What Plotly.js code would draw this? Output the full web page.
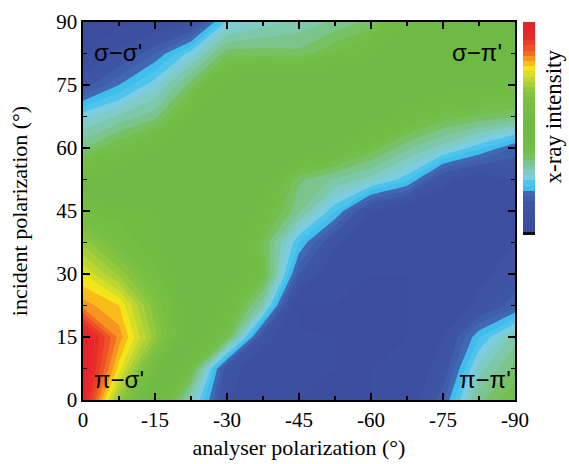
<!DOCTYPE html>
<html><head><meta charset="utf-8">
<script src="https://cdn.plot.ly/plotly-3.0.1.min.js"></script>
<style>html,body{margin:0;padding:0;background:#fff}</style>
</head><body><div id="chart" style="width:569px;height:464px"></div>
<script>
// analyser polarization (deg), x axis
const analyserAngles = [0, -7.5, -15, -22.5, -30, -37.5, -45, -52.5, -60, -67.5, -75, -82.5, -90];
// incident polarization (deg), y axis
const incidentAngles = [0, 7.5, 15, 22.5, 30, 37.5, 45, 52.5, 60, 67.5, 75, 82.5, 90];
// x-ray intensity (arb. units, 0-42), one row per incident angle
const intensity = [
  [40.0, 28.5, 20.0, 12.9,  5.2,  3.5,  3.0,  3.0,  3.0,  3.5,  7.8, 14.6, 17.0],
  [41.0, 32.6, 24.0, 17.0,  6.0,  3.5,  3.2,  3.0,  3.0,  3.3,  6.0, 12.5, 15.3],
  [40.8, 34.6, 28.5, 21.0, 16.4,  5.9,  3.2,  3.0,  3.0,  3.0,  5.0,  9.9, 13.5],
  [34.5, 33.0, 27.2, 21.0, 18.5, 13.25, 2.5,  3.0,  3.0,  3.0,  3.5,  5.5,  7.7],
  [32.0, 28.8, 24.5, 21.5, 20.0, 17.0,  7.1,  3.5,  3.0,  3.0,  3.5,  4.5,  6.0],
  [28.7, 25.0, 23.0, 22.0, 21.0, 16.0, 10.0,  5.5,  3.5,  3.2,  3.3,  4.0,  5.0],
  [24.0, 23.5, 23.0, 22.5, 22.0, 18.0, 14.2, 10.2,  5.0,  3.5,  3.5,  4.0,  4.5],
  [19.5, 20.0, 21.5, 22.0, 22.0, 20.0, 15.2, 13.8, 12.6, 10.4,  5.5,  4.0,  5.0],
  [14.8, 17.0, 19.0, 21.0, 22.0, 22.5, 21.0, 19.0, 16.5, 14.2, 12.5, 10.3,  7.9],
  [11.7, 13.2, 14.6, 19.0, 22.0, 23.0, 22.5, 21.5, 20.0, 18.2, 16.5, 15.8, 15.1],
  [ 6.3,  9.0, 11.7, 15.5, 20.0, 22.0, 22.0, 22.0, 21.0, 21.0, 20.0, 19.5, 19.0],
  [ 3.0,  5.5,  8.0, 11.5, 15.6, 15.5, 15.3, 17.0, 18.5, 21.5, 21.0, 21.0, 20.0],
  [ 1.5,  2.5,  3.5,  5.0, 11.2, 12.5, 13.3, 14.2, 15.3, 20.0, 21.0, 20.0, 19.5]
];
const xTickVals = [0, -15, -30, -45, -60, -75, -90];
const xTickText = ['0', '-15', '-30', '-45', '-60', '-75', '-90'];
const yTickVals = [0, 15, 30, 45, 60, 75, 90];
const yTickText = ['0', '15', '30', '45', '60', '75', '90'];
const cornerLabels = ["σ−σ'", "σ−π'", "π−σ'", "π−π'"];
// one colour per intensity band (band k = [k, k+1))
const bandColors = [
  '#0d0d0d', '#3c4c9e', '#3c4c9e', '#3d4fa0', '#3d4fa0', '#3e53a3', '#3e55a5', '#3f5eab',
  '#4169b3', '#40bdec', '#4cc4ec', '#7dcde2', '#7fcbc6', '#7ec8aa', '#7bc48c', '#77c162',
  '#74be4b', '#72bd46', '#71bc45', '#70bb45', '#6fba45', '#6fba45', '#70bb45', '#72bc44',
  '#74be44', '#77bf43', '#7cc142', '#85c440', '#93c93d', '#a7cf38', '#bed631', '#d6de26',
  '#f4e51b', '#f9bd19', '#f6951f', '#f26e24', '#ee5027', '#ea3b29', '#e72d2a', '#e6262a',
  '#e5242a', '#e5242a'
];

const nb = bandColors.length;
const colorscale = bandColors.map((c, k) => [k / (nb - 1), c]);

const serif = 'Liberation Serif';
const axisCommon = {
  showgrid: false, zeroline: false,
  showline: true, linecolor: '#000', linewidth: 1.6, mirror: 'allticks',
  ticks: 'inside', ticklen: 7, tickwidth: 1.4, tickcolor: '#000',
  minor: {ticks: 'inside', ticklen: 4, tickwidth: 1.2, tickcolor: '#000', tickmode: 'linear', tick0: 0, dtick: 7.5},
  tickfont: {family: serif, size: 21, color: '#000'},
  tickmode: 'array'
};

const trace = {
  type: 'contour',
  x: analyserAngles,
  y: incidentAngles,
  z: intensity,
  autocontour: false,
  contours: {start: 1, end: nb - 1, size: 1, coloring: 'fill', showlines: false},
  line: {width: 0, smoothing: 0},
  colorscale: colorscale,
  colorbar: {
    x: 1.0185, xanchor: 'left', xpad: 0,
    y: 1, yanchor: 'top', ypad: 0,
    thickness: 12, thicknessmode: 'pixels',
    len: 213, lenmode: 'pixels',
    outlinewidth: 0, showticklabels: false, ticks: ''
  },
  hoverinfo: 'skip'
};

const labelFont = {family: 'Liberation Sans', size: 24, color: '#000'};
const layout = {
  width: 569, height: 464,
  margin: {l: 83, r: 54, t: 22, b: 64},
  paper_bgcolor: '#fff', plot_bgcolor: '#fff',
  showlegend: false,
  xaxis: Object.assign({}, axisCommon, {
    range: [0, -90], tickvals: xTickVals, ticktext: xTickText,
    title: {text: 'analyser polarization (°)', font: {family: serif, size: 22, color: '#000'}, standoff: 9}
  }),
  yaxis: Object.assign({}, axisCommon, {
    range: [0, 90], tickvals: yTickVals, ticktext: yTickText,
    title: {text: 'incident polarization (°)', font: {family: serif, size: 22, color: '#000'}, standoff: 22}
  }),
  annotations: [
    {text: cornerLabels[0], xref: 'paper', yref: 'paper', x: 0.02, y: 0.92, xanchor: 'left', yanchor: 'middle', showarrow: false, font: labelFont},
    {text: cornerLabels[1], xref: 'paper', yref: 'paper', x: 0.975, y: 0.92, xanchor: 'right', yanchor: 'middle', showarrow: false, font: labelFont},
    {text: cornerLabels[2], xref: 'paper', yref: 'paper', x: 0.02, y: 0.055, xanchor: 'left', yanchor: 'middle', showarrow: false, font: labelFont},
    {text: cornerLabels[3], xref: 'paper', yref: 'paper', x: 0.995, y: 0.055, xanchor: 'right', yanchor: 'middle', showarrow: false, font: labelFont},
    {text: 'x-ray intensity', xref: 'paper', yref: 'paper', x: 1.088, y: 0.75, xanchor: 'center', yanchor: 'middle',
     textangle: -90, showarrow: false, font: {family: serif, size: 23, color: '#000'}}
  ]
};

Plotly.newPlot('chart', [trace], layout, {displayModeBar: false, staticPlot: true});
</script>
</body></html>
